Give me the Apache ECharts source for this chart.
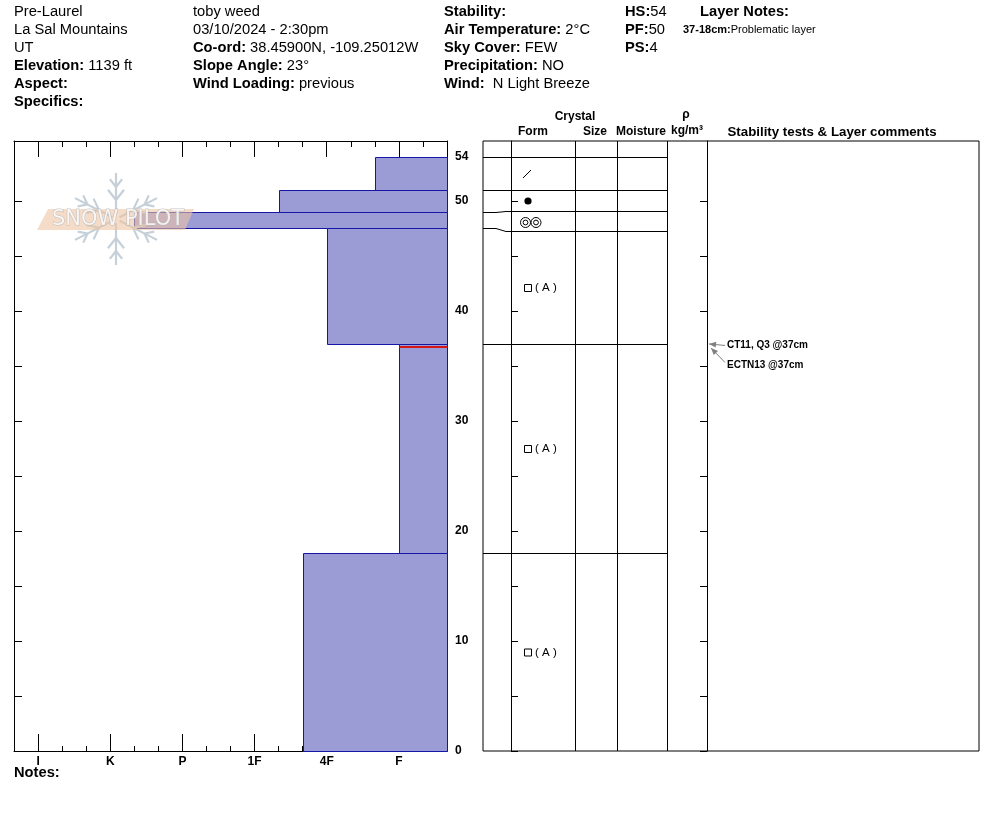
<!DOCTYPE html>
<html>
<head>
<meta charset="utf-8">
<title>Pre-Laurel snow profile</title>
<script src="https://cdn.jsdelivr.net/npm/echarts@6/dist/echarts.min.js"></script>
<style>
html, body { margin: 0; padding: 0; background: #fff; }
#chart { width: 994px; height: 840px; }
</style>
</head>
<body>
<div id="chart"></div>
<script>
'use strict';
// layers, top to bottom (cm)
var layerTop = [54, 51, 49, 47.5, 37, 18];
var layerBottom = [51, 49, 47.5, 37, 18, 0];
var layerHardness = ['F+', '1F-', 'K-', '4F', 'F', '4F+'];
var layerGrain = ['slash', 'dot', 'rings', 'facet', 'facet', 'facet'];
// hardness scale, index 0 = no resistance (right edge)
var hardnessSteps = ['', 'F-', 'F', 'F+', '4F-', '4F', '4F+', '1F-', '1F', '1F+', 'P-', 'P', 'P+', 'K-', 'K', 'K+', 'I-', 'I'];
var hardnessLabels = ['F', '4F', '1F', 'P', 'K', 'I'];
var depthLabels = [0, 10, 20, 30, 40, 50, 54];
var depthTicks = [0, 5, 10, 15, 20, 25, 30, 35, 40, 45, 50];
// stability tests
var testText = ['CT11, Q3 @37cm', 'ECTN13 @37cm'];
var testDepth = [37, 37];
var problemLayer = [37, 18];

// header
var colSite = ['Pre-Laurel', 'La Sal Mountains', 'UT', '{b|Elevation:} 1139 ft', '{b|Aspect:}', '{b|Specifics:}'];
var colObserver = ['toby weed', '03/10/2024 - 2:30pm', '{b|Co-ord:} 38.45900N, -109.25012W', '{b|Slope Angle:} 23°', '{b|Wind Loading:} previous'];
var colWeather = ['{b|Stability:}', '{b|Air Temperature:} 2°C', '{b|Sky Cover:} FEW', '{b|Precipitation:} NO', '{b|Wind:}  N Light Breeze'];
var colDepth = ['{b|HS:}54', '{b|PF:}50', '{b|PS:}4'];
var layerNote = '{b|37-18cm:}Problematic layer';

var FONT = '"Liberation Sans", Arial, sans-serif';
var HEAD_SIZE = 14.7;
var Y_MAX = 55.45;
var MIN_ROW = 20;
var TL = 483, TT = 141, TW = 496, TH = 610; // table box

var majorVals = hardnessLabels.map(function (l) { return hardnessSteps.indexOf(l); });
var minorVals = [];
for (var k = 1; k < hardnessSteps.length; k++) {
    if (majorVals.indexOf(k) < 0) minorVals.push(k);
}

function headerText(lines, x, y0) {
    return lines.map(function (t, i) {
        return {
            type: 'text', x: x, y: y0 + i * 18,
            style: {
                text: t, fill: '#000', fontSize: HEAD_SIZE, fontFamily: FONT, verticalAlign: 'middle',
                rich: { b: { fontWeight: 'bold', fontSize: HEAD_SIZE, fontFamily: FONT } }
            }
        };
    });
}

function label(t, x, y, size, align) {
    return {
        type: 'text', x: x, y: y,
        style: { text: t, fill: '#000', fontSize: size, fontWeight: 'bold', fontFamily: FONT, align: align || 'center', verticalAlign: 'middle' }
    };
}

function seg(x1, y1, x2, y2, color, w) {
    return { type: 'line', shape: { x1: x1, y1: y1, x2: x2, y2: y2 }, style: { stroke: color || '#000', lineWidth: w || 1 } };
}

//水印 snowflake + banner, drawn over the bars
function watermark(cx, cy) {
    var parts = [];
    var flake = '#c6d0d8';
    [90, 27, 153, 207, 333, 270].forEach(function (a) {
        var r = a * Math.PI / 180, dx = Math.cos(r), dy = -Math.sin(r);
        parts.push(seg(cx + dx * 4, cy + dy * 4, cx + dx * 46, cy + dy * 46, flake, 2.2));
        [[19, 13], [32, 10]].forEach(function (b) {
            var bx = cx + dx * b[0], by = cy + dy * b[0];
            [38, -38].forEach(function (o) {
                var rr = (a + o) * Math.PI / 180;
                parts.push(seg(bx, by, bx + Math.cos(rr) * b[1], by - Math.sin(rr) * b[1], flake, 2.2));
            });
        });
    });
    parts.push({
        type: 'polygon',
        shape: { points: [[cx - 68, cy - 10], [cx + 78, cy - 10], [cx + 69, cy + 11], [cx - 79, cy + 11]] },
        style: { fill: 'rgba(236,196,164,0.6)' }
    });
    parts.push({
        type: 'text', x: cx + 2, y: cy + 1,
        style: { text: 'SNOW PILOT', fontSize: 21, fontFamily: '"DejaVu Sans", sans-serif', fill: 'rgba(255,255,255,0.8)', stroke: 'rgba(180,180,180,0.8)', lineWidth: 1, align: 'center', verticalAlign: 'middle' }
    });
    parts.forEach(function (p) { p.z = 100; p.silent = true; });
    return parts;
}

function renderHardness(params, api) {
    var h = api.value(0), top = api.value(1), bot = api.value(2);
    var p1 = api.coord([h, top]);
    var p2 = api.coord([0, bot]);
    var x1 = Math.round(p1[0]) + 0.5, x2 = Math.round(p2[0]) + 0.5;
    var y1 = Math.round(p1[1]) + 0.5, y2 = Math.round(p2[1]) + 0.5;
    var children = [{
        type: 'rect',
        shape: { x: x1, y: y1, width: x2 - x1, height: y2 - y1 },
        style: { fill: '#9b9bd6', stroke: '#1616a6', lineWidth: 1 }
    }];
    if (top === problemLayer[0]) {
        children.push(seg(x1, y1 + 2.5, x2, y1 + 2.5, '#d01818', 2));
    }
    return { type: 'group', children: children };
}

// table rows keep a minimum height, thin layers are widened round their centre
function tableBounds(api) {
    var depths = layerTop.concat([layerBottom[layerBottom.length - 1]]);
    var real = depths.map(function (d) { return Math.round(api.coord([0, d])[1]) + 0.5; });
    var shown = real.slice();
    for (var i = 0; i < layerTop.length; i++) {
        if (real[i + 1] - real[i] < MIN_ROW) {
            var c = (real[i] + real[i + 1]) / 2;
            shown[i] = Math.round(c - MIN_ROW / 2) + 0.5;
            shown[i + 1] = Math.round(c + MIN_ROW / 2) + 0.5;
        }
    }
    return { real: real, shown: shown };
}

function grainShape(kind, cx, cy) {
    if (kind === 'slash') return [seg(cx - 5, cy + 4, cx + 3, cy - 4)];
    if (kind === 'dot') return [{ type: 'circle', shape: { cx: cx, cy: cy, r: 3.6 }, style: { fill: '#000' } }];
    if (kind === 'rings') {
        return [cx - 2.5, cx + 8].reduce(function (arr, x) {
            arr.push({ type: 'circle', shape: { cx: x, cy: cy + 1, r: 5 }, style: { fill: 'none', stroke: '#000', lineWidth: 1 } });
            arr.push({ type: 'circle', shape: { cx: x, cy: cy + 1, r: 2.4 }, style: { fill: 'none', stroke: '#000', lineWidth: 1 } });
            return arr;
        }, []);
    }
    return [
        { type: 'rect', shape: { x: cx - 3.5, y: cy - 3.5, width: 7, height: 7 }, style: { fill: 'none', stroke: '#000', lineWidth: 1 } },
        { type: 'text', x: cx + 7, y: cy, style: { text: '( A )', fontSize: 11.5, fontFamily: FONT, fill: '#000', verticalAlign: 'middle' } }
    ];
}

function renderTable(params, api) {
    var i = params.dataIndex;
    var L = params.coordSys.x;
    var b = tableBounds(api);
    var children = [{
        type: 'polyline',
        shape: { points: [[L, b.real[i]], [L + 13, b.real[i]], [L + 23, b.shown[i]], [L + 184, b.shown[i]]] },
        style: { stroke: '#000', lineWidth: 1, fill: 'none' }
    }];
    var cy = (b.shown[i] + b.shown[i + 1]) / 2;
    children = children.concat(grainShape(layerGrain[i], L + 45, cy));
    return { type: 'group', children: children };
}

function renderTests(params, api) {
    var i = params.dataIndex;
    var L = params.coordSys.x;
    var y = api.coord([0, api.value(1)])[1];
    var ty = y + 1.5 + i * 20;
    var tip = [L + 226 + i * 2, y + (i ? 4 : 0)];
    var tail = [L + 242, ty - (i ? 3 : 0)];
    var ang = Math.atan2(tail[1] - tip[1], tail[0] - tip[0]);
    var back = [tip[0] + Math.cos(ang) * 7, tip[1] + Math.sin(ang) * 7];
    var nx = -Math.sin(ang) * 3, ny = Math.cos(ang) * 3;
    return {
        type: 'group',
        children: [
            seg(tail[0], tail[1], tip[0], tip[1], '#808080', 1),
            { type: 'polygon', shape: { points: [tip, [back[0] + nx, back[1] + ny], [back[0] - nx, back[1] - ny]] }, style: { fill: '#808080' } },
            { type: 'text', x: L + 244, y: ty, style: { text: testText[i], fontSize: 10, fontWeight: 'bold', fontFamily: FONT, fill: '#000', verticalAlign: 'middle' } }
        ]
    };
}

var graphics = []
    .concat(headerText(colSite, 14, 12))
    .concat(headerText(colObserver, 193, 12))
    .concat(headerText(colWeather, 444, 12))
    .concat(headerText(colDepth, 625, 12))
    .concat([
        label('Layer Notes:', 700, 12, HEAD_SIZE, 'left'),
        {
            type: 'text', x: 683, y: 30,
            style: { text: layerNote, fontSize: 11, fontFamily: FONT, fill: '#000', verticalAlign: 'middle', rich: { b: { fontWeight: 'bold', fontSize: 11, fontFamily: FONT } } }
        },
        label('Crystal', 575, 117, 12),
        label('Form', 533, 132, 12),
        label('Size', 595, 132, 12),
        label('Moisture', 641, 132, 12),
        label('\u03C1', 686, 115, 12),
        label('kg/m\u00B3', 687, 131, 12),
        label('Stability tests & Layer comments', 832, 132, 13.3),
        label('Notes:', 14, 773, HEAD_SIZE, 'left'),
        seg(TL + 92.5, TT, TL + 92.5, TT + TH),
        seg(TL + 134.5, TT, TL + 134.5, TT + TH),
        seg(TL + 184.5, TT, TL + 184.5, TT + TH)
    ])
    .concat(watermark(116, 219));

function hAxis(pos, vals, len, withLabel) {
    return {
        gridIndex: 0, type: 'value', min: 0, max: 18, inverse: true, position: pos,
        axisLine: { show: withLabel !== undefined, onZero: false, lineStyle: { color: '#000', width: 1 } },
        axisTick: { show: true, inside: true, length: len, customValues: vals, lineStyle: { color: '#000', width: 1 } },
        axisLabel: withLabel ? {
            show: true, customValues: majorVals, margin: 5,
            formatter: function (v) { return hardnessSteps[v]; },
            color: '#000', fontWeight: 'bold', fontSize: 12, fontFamily: FONT
        } : { show: false },
        splitLine: { show: false }
    };
}

function vAxis(grid, pos, offset, inside, labels) {
    return {
        gridIndex: grid, type: 'value', min: 0, max: Y_MAX, position: pos, offset: offset,
        axisLine: { show: true, onZero: false, lineStyle: { color: '#000', width: 1 } },
        axisTick: { show: true, inside: inside, length: 7, customValues: depthTicks, lineStyle: { color: '#000', width: 1 } },
        axisLabel: labels ? {
            show: true, customValues: depthLabels, margin: 8,
            color: '#000', fontWeight: 'bold', fontSize: 12, fontFamily: FONT
        } : { show: false },
        splitLine: { show: false }
    };
}

var leftY = vAxis(0, 'left', 0, true, false);
leftY.axisTick.length = 8;

var option = {
    animation: false,
    backgroundColor: '#fff',
    grid: [
        { left: 14, top: TT, width: 433, height: TH },
        { left: TL, top: TT, width: TW, height: TH, show: true, borderColor: '#000', borderWidth: 1, backgroundColor: 'transparent' }
    ],
    xAxis: [
        hAxis('bottom', majorVals, 17, true),
        hAxis('bottom', minorVals, 5),
        hAxis('top', majorVals, 16, false),
        hAxis('top', minorVals, 6),
        { gridIndex: 1, type: 'value', min: 0, max: 1, show: false, axisLine: { onZero: false } }
    ],
    yAxis: [
        leftY,
        vAxis(0, 'right', 0, true, true),
        vAxis(1, 'left', -28, true, false),
        vAxis(1, 'left', -224, false, false)
    ],
    graphic: graphics,
    series: [
        {
            type: 'custom', name: 'hardness', xAxisIndex: 0, yAxisIndex: 0,
            renderItem: renderHardness,
            encode: { x: 0, y: [1, 2] },
            data: layerTop.map(function (t, i) { return [hardnessSteps.indexOf(layerHardness[i]), t, layerBottom[i]]; }),
            silent: true
        },
        {
            type: 'custom', name: 'layers', xAxisIndex: 4, yAxisIndex: 2,
            renderItem: renderTable,
            encode: { x: 0, y: 1 },
            data: layerTop.map(function (t) { return [0, t]; }),
            silent: true
        },
        {
            type: 'custom', name: 'tests', xAxisIndex: 4, yAxisIndex: 2,
            renderItem: renderTests,
            encode: { x: 0, y: 1 },
            data: testDepth.map(function (d) { return [0, d]; }),
            silent: true
        }
    ]
};

var chart = echarts.init(document.getElementById('chart'));
chart.setOption(option);
window.onresize = chart.resize;
</script>
</body>
</html>
